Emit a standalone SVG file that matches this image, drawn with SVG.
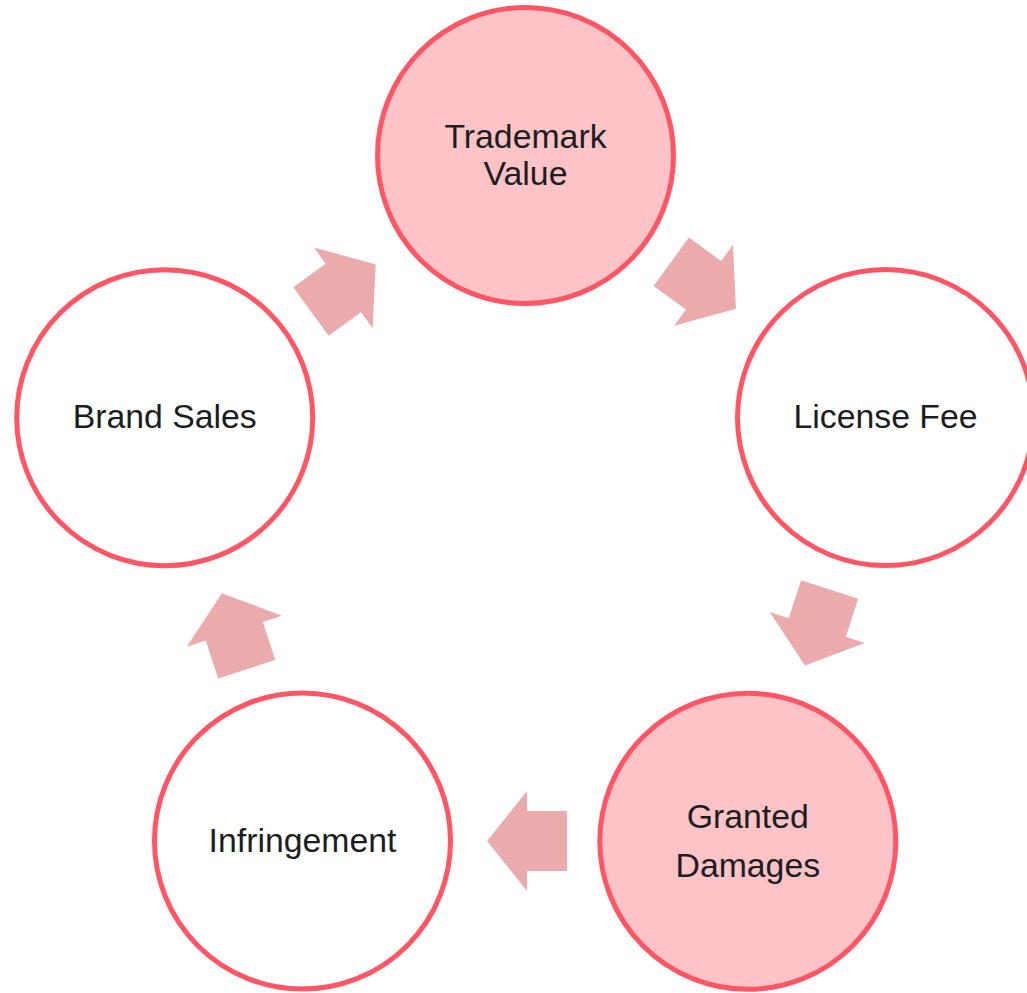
<svg xmlns="http://www.w3.org/2000/svg" width="1027" height="993" viewBox="0 0 1027 993">
  <style>
    .node { stroke: #ff5565; stroke-width: 5; }
    .plain { fill: #ffffff; }
    .hi { fill: #fdc3c7; }
    .label { font-family: "Liberation Sans", Arial, sans-serif; font-size: 33.8px; fill: #1b1e21; text-anchor: middle; }
    .arrow { fill: #ebabac; }
  </style>
  <defs>
    <polygon id="arr" points="-40,-30 0,-30 0,-50 40,0 0,50 0,30 -40,30"/>
  </defs>
  <rect width="1027" height="993" fill="#ffffff"/>
  <g id="connectors">
    <use href="#arr" class="arrow" transform="translate(343.3,287.9) rotate(-36)"/>
    <use href="#arr" class="arrow" transform="translate(703.6,285.3) rotate(36)"/>
    <use href="#arr" class="arrow" transform="translate(817.3,627.5) rotate(108)"/>
    <use href="#arr" class="arrow" transform="translate(527.1,841) rotate(180)"/>
    <use href="#arr" class="arrow" transform="translate(234.3,631.2) rotate(-108)"/>
  </g>
  <g id="node-trademark-value">
    <circle class="node hi" cx="525.5" cy="155.5" r="148"/>
    <text class="label" x="525.5" y="148.3">Trademark</text>
    <text class="label" x="525.5" y="185">Value</text>
  </g>
  <g id="node-license-fee">
    <circle class="node plain" cx="885.5" cy="417.6" r="148"/>
    <text class="label" x="885.5" y="428.3">License Fee</text>
  </g>
  <g id="node-granted-damages">
    <circle class="node hi" cx="747.8" cy="841.3" r="148"/>
    <text class="label" x="747.8" y="828">Granted</text>
    <text class="label" x="747.8" y="876.5">Damages</text>
  </g>
  <g id="node-infringement">
    <circle class="node plain" cx="302.5" cy="841" r="148"/>
    <text class="label" x="302.5" y="852">Infringement</text>
  </g>
  <g id="node-brand-sales">
    <circle class="node plain" cx="164.7" cy="417.7" r="148"/>
    <text class="label" x="164.7" y="428.3">Brand Sales</text>
  </g>
</svg>
